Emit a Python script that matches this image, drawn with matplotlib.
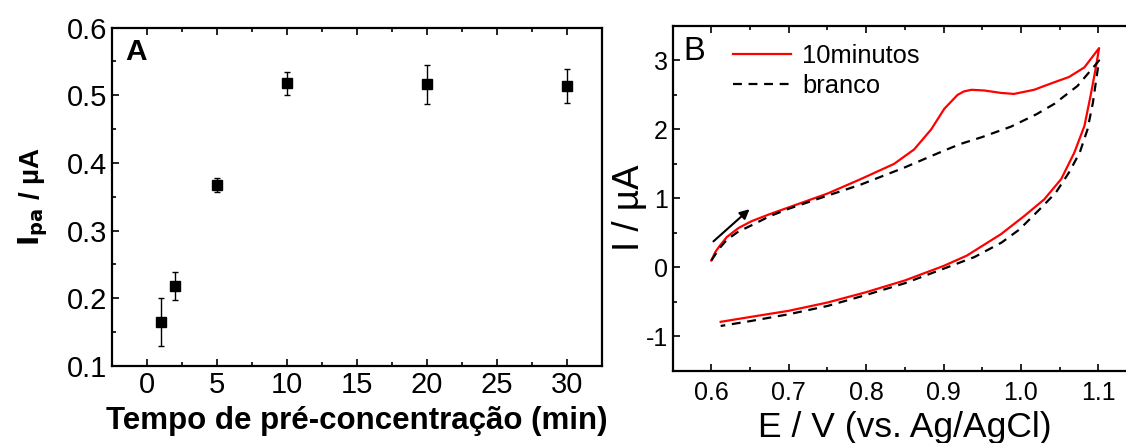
import numpy as np
import matplotlib.pyplot as plt
from matplotlib.ticker import MultipleLocator, FixedLocator

plt.rcParams['font.family'] = ['Liberation Sans', 'DejaVu Sans']
plt.rcParams['axes.unicode_minus'] = False

# painel A: corrente de pico vs tempo de pre-concentracao
tempo = [1, 2, 5, 10, 20, 30]
ipa = [0.165, 0.218, 0.367, 0.518, 0.516, 0.513]
ipa_err = [0.035, 0.021, 0.010, 0.017, 0.029, 0.025]

# painel B: voltamogramas ciclicos (varredura direta + reversa)
E_10min = [0.600, 0.605, 0.610, 0.620, 0.635, 0.652, 0.675, 0.700, 0.750, 0.793,
           0.836, 0.862, 0.884, 0.901, 0.918, 0.926, 0.936, 0.9525, 0.974, 0.991,
           1.017, 1.030, 1.047, 1.062, 1.082, 1.101,
           1.096, 1.090, 1.082, 1.069, 1.052, 1.030, 1.004, 0.974, 0.930, 0.900,
           0.850, 0.800, 0.750, 0.700, 0.650, 0.612]
I_10min = [0.10, 0.22, 0.30, 0.44, 0.57, 0.67, 0.77, 0.87, 1.07, 1.28,
           1.50, 1.71, 2.00, 2.30, 2.50, 2.55, 2.575, 2.565, 2.53, 2.515,
           2.575, 2.63, 2.70, 2.76, 2.90, 3.18,
           2.85, 2.49, 2.05, 1.665, 1.28, 0.985, 0.742, 0.48, 0.17, 0.02,
           -0.19, -0.36, -0.51, -0.63, -0.72, -0.79]
E_branco = [0.600, 0.610, 0.620, 0.635, 0.652, 0.675, 0.700, 0.750, 0.793, 0.850,
            0.900, 0.922, 0.950, 0.987, 1.020, 1.043, 1.073, 1.101,
            1.098, 1.093, 1.086, 1.076, 1.062, 1.045, 1.024, 0.998, 0.975, 0.940,
            0.900, 0.850, 0.800, 0.750, 0.700, 0.650, 0.612]
I_branco = [0.10, 0.27, 0.40, 0.52, 0.61, 0.74, 0.85, 1.04, 1.20, 1.45,
            1.69, 1.79, 1.89, 2.04, 2.22, 2.37, 2.63, 3.00,
            2.78, 2.39, 2.00, 1.665, 1.374, 1.083, 0.84, 0.549, 0.36, 0.15,
            -0.02, -0.23, -0.40, -0.56, -0.68, -0.78, -0.85]

fig = plt.figure(figsize=(11.26, 4.43), dpi=100)
axA = fig.add_axes([0.0995, 0.1738, 0.4349, 0.7641])
axB = fig.add_axes([0.5974, 0.163, 0.4124, 0.7783])

for ax in (axA, axB):
    for s in ax.spines.values():
        s.set_linewidth(1.6)
    ax.tick_params(which='both', direction='in', top=True, right=False, width=1.2)
    ax.tick_params(which='major', length=5)
    ax.tick_params(which='minor', length=3)
    ax.tick_params(axis='x', which='both', labeltop=False)

# --- A ---
axA.errorbar(tempo, ipa, yerr=ipa_err, fmt='s', color='black', ms=6.5,
             capsize=2.5, elinewidth=1.0, capthick=1.0)
axA.set_xlim(-2.5, 32.5)
axA.set_ylim(0.1, 0.6)
axA.xaxis.set_major_locator(MultipleLocator(5))
axA.xaxis.set_minor_locator(MultipleLocator(2.5))
axA.yaxis.set_major_locator(MultipleLocator(0.1))
axA.yaxis.set_minor_locator(MultipleLocator(0.05))
axA.tick_params(which='major', labelsize=21)
axA.set_yticks(axA.get_yticks())
axA.set_yticklabels([f'{v:.1f}' for v in axA.get_yticks()])
axA.set_ylim(0.1, 0.6)
axA.set_xlabel('Tempo de pré-concentração (min)', fontsize=22.5, fontweight='bold', labelpad=5)
axA.set_ylabel(r'$\mathbf{I_{pa}}$ / µA', fontsize=20, fontweight='bold', labelpad=12)
axA.text(0.027, 0.904, 'A', transform=axA.transAxes, fontsize=21.5, fontweight='bold')

# --- B ---
axB.plot(E_10min, I_10min, color='red', lw=1.6, label='10minutos')
axB.plot(E_branco, I_branco, color='black', lw=1.6, ls=(0, (4, 3)), label='branco')
axB.annotate('', xy=(0.652, 0.87), xytext=(0.600, 0.35),
             arrowprops=dict(arrowstyle='-|>', color='black', lw=1.5, mutation_scale=14))
axB.set_xlim(0.55, 1.15)
axB.set_ylim(-1.5, 3.5)
axB.xaxis.set_major_locator(FixedLocator([0.6, 0.7, 0.8, 0.9, 1.0, 1.1]))
axB.xaxis.set_minor_locator(MultipleLocator(0.05))
axB.yaxis.set_major_locator(MultipleLocator(1))
axB.yaxis.set_minor_locator(MultipleLocator(0.5))
axB.tick_params(which='major', labelsize=18)
axB.tick_params(axis='x', which='major', pad=7)
axB.set_xticklabels(['0.6', '0.7', '0.8', '0.9', '1.0', '1.1'])
axB.set_xlabel('E / V (vs. Ag/AgCl)', fontsize=25.5, labelpad=5)
axB.set_ylabel('I / µA', fontsize=26.5)
axB.yaxis.set_label_coords(-0.055, 0.4736)
axB.text(0.024, 0.9014, 'B', transform=axB.transAxes, fontsize=23.5)
axB.legend(loc='upper left', bbox_to_anchor=(0.092, 1.0), frameon=False, fontsize=18.4,
           handlelength=2.27, handletextpad=0.43, labelspacing=0.25, borderaxespad=0.3)

fig.savefig('out.png', dpi=100)
